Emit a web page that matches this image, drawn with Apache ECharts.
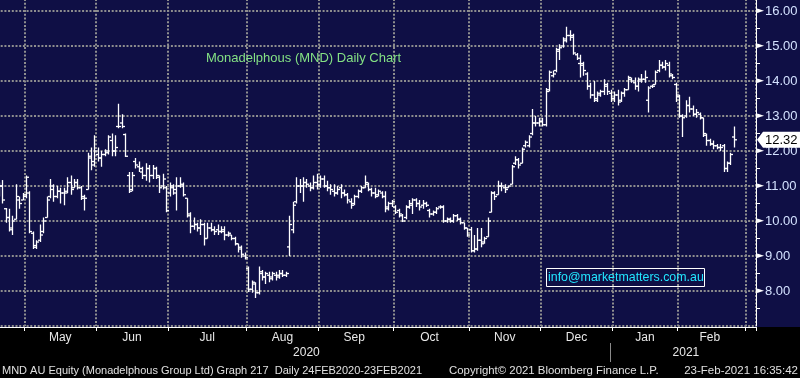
<!DOCTYPE html>
<html><head><meta charset="utf-8">
<script src="https://cdn.jsdelivr.net/npm/echarts@6/dist/echarts.min.js"></script>
<style>html,body{margin:0;padding:0;background:#000;}#c{width:800px;height:378px;}</style>
</head><body><div id="c"></div>
<script>
// ---- trading days shown (categories) ----
const apr2020 = [21,22,23,24,27,28,29,30];
const may2020 = [1,4,5,6,7,8,11,12,13,14,15,18,19,20,21,22,25,26,27,28,29];
const jun2020 = [1,2,3,4,5,9,10,11,12,15,16,17,18,19,22,23,24,25,26,29,30];
const jul2020 = [1,2,3,6,7,8,9,10,13,14,15,16,17,20,21,22,23,24,27,28,29,30,31];
const aug2020 = [3,4,5,6,7,10,11,12,13,14,17,18,19,20,21,24,25,26,27,28,31];
const sep2020 = [1,2,3,4,7,8,9,10,11,14,15,16,17,18,21,22,23,24,25,28,29,30];
const oct2020 = [1,2,5,6,7,8,9,12,13,14,15,16,19,20,21,22,23,26,27,28,29,30];
const nov2020 = [2,3,4,5,6,9,10,11,12,13,16,17,18,19,20,23,24,25,26,27,30];
const dec2020 = [1,2,3,4,7,8,9,10,11,14,15,16,17,18,21,22,23,24,29,30,31];
const jan2021 = [4,5,6,7,8,11,12,13,14,15,18,19,20,21,22,25,27,28,29];
const feb2021 = [1,2,3,4,5,8,9,10,11,12,15,16,17,18,19,22,23,24,25,26];
const mar2021 = [1,2,3];
const monthNames = ['Jan','Feb','Mar','Apr','May','Jun','Jul','Aug','Sep','Oct','Nov','Dec'];

// ---- OHLC values (AUD) ----
const opens = [
 10.9,11.0,10.35,10.1,9.75,10.05,10.6,10.6,
 10.7,10.8,9.65,9.3,9.45,9.7,10.1,10.7,10.9,10.7,10.85,10.8,10.8,11.1,10.95,11.1,10.95,10.65,10.9,11.8,11.6,
 11.9,11.8,11.9,12.0,12.3,12.0,12.7,12.8,12.47,11.3,10.9,11.7,11.55,11.4,11.3,11.5,11.3,11.5,11.3,11.0,10.95,
 10.8,10.95,10.8,11.0,11.0,10.65,10.2,9.85,9.9,9.8,9.9,9.5,9.8,9.75,9.75,9.7,9.7,9.6,9.6,9.5,9.35,9.2,9.0,
 8.65,8.05,8.2,7.95,8.5,8.4,8.45,8.4,8.45,8.45,8.5,8.45,9.26,9.75,10.55,11.0,11.0,11.1,11.0,10.95,11.1,
 11.05,11.2,11.0,10.95,10.85,10.8,10.95,10.8,10.75,10.55,10.5,10.7,10.85,10.95,11.05,10.9,10.8,10.75,10.8,10.7,10.4,10.5,
 10.4,10.3,10.15,10.1,10.4,10.45,10.6,10.5,10.45,10.5,10.3,10.2,10.25,10.4,10.4,10.0,10.05,10.0,10.15,10.05,9.95,9.8,
 9.75,9.15,9.2,9.45,9.4,9.55,10.25,10.8,10.75,11.0,10.95,10.95,11.05,11.65,11.75,11.65,12.15,12.15,12.5,12.8,12.8,
 12.85,12.75,13.75,14.15,14.3,14.85,15.0,15.2,15.3,15.3,14.75,14.5,14.45,14.2,13.85,13.6,13.5,13.6,13.7,13.85,13.65,
 13.5,13.6,13.45,13.65,13.75,14.05,13.95,13.85,14.0,14.05,13.45,13.85,13.9,14.3,14.45,14.4,14.45,14.15,13.9,
 13.6,13.0,13.0,13.3,13.2,13.05,13.05,12.95,12.45,12.3,12.2,12.15,12.1,12.15,11.5,11.65,12.4
];
const highs = [
 11.1,11.17,10.37,10.35,10.15,11.05,10.7,10.8,
 11.3,10.85,9.7,9.45,9.9,10.1,10.7,11.2,11.05,11.0,10.95,10.95,11.25,11.3,11.2,11.2,11.0,10.75,11.95,12.1,12.45,
 12.1,12.0,12.05,12.45,12.5,12.45,13.35,13.05,12.5,11.4,11.4,11.8,11.7,11.55,11.65,11.6,11.6,11.55,11.3,11.35,11.0,
 11.1,11.05,11.25,11.25,11.1,10.65,10.25,10.1,9.95,10.05,9.95,9.95,9.95,9.85,9.9,9.85,9.85,9.7,9.6,9.55,9.35,9.3,9.1,
 8.7,8.3,8.25,8.7,8.6,8.55,8.55,8.55,8.55,8.6,8.6,8.55,10.15,10.55,11.25,11.2,11.25,11.2,11.1,11.3,11.35,
 11.3,11.3,11.15,11.05,11.05,11.0,11.05,10.9,10.8,10.65,10.75,10.9,11.0,11.3,11.1,10.95,10.95,10.9,10.85,10.85,10.55,10.6,
 10.45,10.35,10.2,10.45,10.6,10.65,10.65,10.6,10.6,10.55,10.35,10.3,10.4,10.45,10.45,10.1,10.1,10.2,10.2,10.1,9.95,9.8,
 9.83,9.6,9.8,9.8,9.55,10.1,10.85,10.85,11.15,11.1,11.05,11.0,11.6,11.85,11.8,12.1,12.3,12.45,13.2,13.0,12.95,
 12.95,13.8,14.3,14.3,14.95,15.05,15.25,15.55,15.45,15.35,14.8,14.75,14.55,14.25,13.95,14.0,13.7,13.75,14.05,13.95,13.75,
 13.7,13.75,13.7,13.8,14.15,14.1,14.1,14.1,14.2,14.3,13.85,13.9,14.3,14.6,14.55,14.6,14.55,14.2,13.95,
 13.6,13.05,13.45,13.55,13.3,13.2,13.1,12.95,12.5,12.35,12.3,12.2,12.2,12.2,11.7,11.95,12.7
];
const lows = [
 10.7,10.5,9.95,9.7,9.6,10.05,10.35,10.6,
 10.65,9.65,9.2,9.2,9.4,9.65,10.1,10.65,10.55,10.65,10.5,10.45,10.8,10.75,10.95,10.9,10.6,10.3,10.9,11.45,11.55,
 11.7,11.55,11.85,11.9,11.85,11.85,12.65,12.65,11.83,10.8,10.85,11.5,11.4,11.2,11.15,11.1,11.2,11.2,10.8,10.9,10.25,
 10.7,10.75,10.3,10.95,10.7,10.1,9.65,9.75,9.7,9.6,9.3,9.5,9.7,9.6,9.6,9.65,9.45,9.55,9.45,9.3,9.1,8.95,8.9,
 7.97,7.95,7.8,7.9,8.3,8.2,8.25,8.3,8.3,8.35,8.4,8.4,9.0,9.65,10.5,10.8,10.55,10.95,10.85,10.9,10.9,
 10.95,10.95,10.85,10.75,10.7,10.75,10.65,10.7,10.5,10.35,10.45,10.65,10.8,10.95,10.85,10.7,10.65,10.7,10.65,10.25,10.3,10.4,
 10.2,10.1,9.97,10.05,10.35,10.2,10.4,10.3,10.35,10.4,10.1,10.15,10.2,10.35,9.95,9.95,9.95,9.95,10.0,9.9,9.75,9.55,
 9.1,9.1,9.15,9.25,9.35,9.55,10.25,10.6,10.75,10.85,10.8,10.95,11.05,11.6,11.5,11.65,12.1,12.1,12.45,12.7,12.7,
 12.7,12.7,13.7,14.1,14.25,14.6,14.95,15.1,15.15,14.75,14.6,14.1,14.15,13.75,13.5,13.4,13.4,13.55,13.6,13.6,13.4,
 13.4,13.3,13.4,13.55,13.75,13.95,13.75,13.7,13.95,13.95,13.1,13.8,13.9,14.25,14.35,14.3,14.1,14.05,13.4,
 12.95,12.4,12.95,13.1,13.0,12.95,12.9,12.4,12.15,12.15,12.05,12.05,12.0,11.4,11.4,11.6,12.1
];
const closes = [
 11.0,10.6,10.1,9.8,10.0,10.7,10.5,10.75,
 11.25,9.7,9.25,9.4,9.6,10.0,10.6,11.0,10.7,10.85,10.8,10.85,11.1,10.9,11.1,10.95,10.7,10.65,11.85,11.7,12.0,
 11.8,11.9,11.95,12.4,12.0,12.1,12.7,12.7,11.85,10.85,11.3,11.6,11.5,11.3,11.5,11.3,11.5,11.25,10.95,11.2,10.3,
 11.0,10.9,11.0,11.05,10.75,10.15,9.85,9.9,9.8,9.9,9.5,9.8,9.75,9.7,9.7,9.75,9.6,9.65,9.5,9.35,9.25,9.05,8.95,
 8.05,8.25,7.95,8.55,8.4,8.5,8.35,8.5,8.4,8.5,8.45,8.5,9.9,10.45,11.0,11.0,11.1,11.05,10.95,11.1,11.0,
 11.2,11.0,10.95,10.9,10.8,10.9,10.8,10.75,10.6,10.45,10.7,10.85,10.95,11.1,10.9,10.8,10.7,10.85,10.7,10.35,10.5,10.55,
 10.25,10.2,10.0,10.4,10.5,10.6,10.5,10.4,10.5,10.45,10.2,10.25,10.35,10.4,10.0,10.05,10.0,10.15,10.05,9.95,9.8,9.6,
 9.15,9.2,9.45,9.35,9.5,10.0,10.8,10.7,11.0,11.0,10.9,11.0,11.55,11.75,11.6,12.05,12.25,12.4,12.8,12.8,12.85,
 12.75,13.7,14.25,14.2,14.9,14.95,15.15,15.3,15.25,14.8,14.65,14.5,14.3,13.85,13.6,13.45,13.65,13.7,13.9,13.7,13.5,
 13.6,13.4,13.65,13.75,14.1,14.0,13.85,14.05,14.05,14.1,13.8,13.85,14.25,14.45,14.4,14.5,14.2,14.1,13.55,
 13.0,12.95,13.3,13.2,13.05,13.1,12.95,12.5,12.3,12.2,12.15,12.1,12.1,11.5,11.65,11.9,12.32
];
const lastPrice = 12.32;
const yTicks = { min: 7, step: 1 };

// ---- build categories ----
const months = [
 [2020,4,apr2020],[2020,5,may2020],[2020,6,jun2020],[2020,7,jul2020],[2020,8,aug2020],[2020,9,sep2020],
 [2020,10,oct2020],[2020,11,nov2020],[2020,12,dec2020],[2021,1,jan2021],[2021,2,feb2021],[2021,3,mar2021]
];
const categories = [];
const monthStart = [];
const monthMid = {};
const yearRange = {};
months.forEach(function (m, k) {
  const start = categories.length;
  m[2].forEach(function (d) {
    categories.push(m[0] + '-' + String(m[1]).padStart(2, '0') + '-' + String(d).padStart(2, '0'));
  });
  const end = categories.length - 1;
  if (k > 0) monthStart.push(start);
  if (k > 0 && k < months.length - 1) monthMid[start + Math.floor((end - start) / 2)] = monthNames[m[1] - 1];
  if (!yearRange[m[0]]) yearRange[m[0]] = [start, end]; else yearRange[m[0]][1] = end;
});
const yearEndSet = {};
const yearMid = {};
Object.keys(yearRange).forEach(function (y, k, arr) {
  const r = yearRange[y];
  yearMid[Math.round((r[0] + r[1]) / 2)] = y;
  if (k < arr.length - 1) yearEndSet[r[1]] = true;
});
const startSet = {};
monthStart.forEach(function (i) { startSet[i] = true; });

const ohlc = opens.map(function (o, i) { return [i, o, closes[i], lows[i], highs[i]]; });

const NAVY = '#0f0f45';
const GRID = '#8e8e8e';
const FONT = '"Liberation Sans", Arial, sans-serif';

const chart = echarts.init(document.getElementById('c'), null, { renderer: 'canvas' });
chart.setOption({
  animation: false,
  backgroundColor: NAVY,
  grid: { left: -3, top: -1, width: 759, height: 327, containLabel: false, outerBoundsMode: 'none' },
  xAxis: [
    {
      type: 'category', data: categories, boundaryGap: true, position: 'bottom', offset: 1,
      axisLine: { show: true, lineStyle: { color: '#ffffff', width: 1 } },
      axisTick: { show: true, interval: function (i) { return !!startSet[i]; }, length: 4, lineStyle: { color: '#ffffff' } },
      splitLine: { show: true, interval: function (i) { return !!startSet[i]; }, lineStyle: { color: GRID, width: 2, type: [2, 1.7] } },
      axisLabel: {
        show: true, interval: function (i) { return monthMid[i] !== undefined; },
        formatter: function (v, i) { return monthMid[i] || ''; },
        color: '#e8e8e8', fontSize: 12, fontFamily: FONT, margin: 5
      }
    },
    {
      type: 'category', data: categories, boundaryGap: true, position: 'bottom', offset: 17,
      axisLine: { show: false },
      axisTick: { show: true, alignWithLabel: true, interval: function (i) { return !!yearEndSet[i]; }, length: 19, lineStyle: { color: '#8a8a8a' } },
      splitLine: { show: false },
      axisLabel: {
        show: true, interval: function (i) { return yearMid[i] !== undefined; },
        formatter: function (v, i) { return yearMid[i] || ''; },
        color: '#e8e8e8', fontSize: 12, fontFamily: FONT, margin: 4
      }
    }
  ],
  yAxis: {
    type: 'value', position: 'right', min: yTicks.min, max: yTicks.min + 327 / 35, interval: yTicks.step,
    axisLine: { show: true, lineStyle: { color: '#ffffff', width: 1 } },
    axisTick: { show: false },
    minorTick: { show: true, splitNumber: 2, length: 4, lineStyle: { color: '#ffffff', width: 1 } },
    splitLine: { show: true, lineStyle: { color: GRID, width: 2, type: [2, 1.7] } },
    axisLabel: {
      show: true, margin: 1, showMinLabel: false, showMaxLabel: false,
      formatter: function (v) { return '{t|\u25BA}{v|' + v.toFixed(2) + '}'; },
      rich: {
        t: { color: '#ffffff', fontSize: 9, fontFamily: '"DejaVu Sans"', padding: [0, 1, 0, 0] },
        v: { color: '#d4e2ff', fontSize: 13, fontFamily: FONT }
      }
    }
  },
  graphic: { elements: [
    { type: 'rect', z: -1, shape: { x: 0, y: 327, width: 800, height: 51 }, style: { fill: '#000000' } },
    { type: 'text', z: 50, x: 206, y: 58, style: { text: 'Monadelphous (MND) Daily Chart', fill: '#84e184', font: '13px ' + FONT, verticalAlign: 'middle' } },
    { type: 'rect', z: 50, shape: { x: 546.5, y: 268.5, width: 158, height: 18 }, style: { fill: 'none', stroke: '#ffffff', lineWidth: 1 } },
    { type: 'text', z: 50, x: 548, y: 278, style: { text: 'info@marketmatters.com.au', fill: '#22e6ff', font: '12.4px ' + FONT, verticalAlign: 'middle' } },
    { type: 'text', z: 50, x: 2, y: 371, style: { text: 'MND AU Equity (Monadelphous Group Ltd) Graph 217  Daily 24FEB2020-23FEB2021', fill: '#e0e0e0', font: '11px ' + FONT, verticalAlign: 'middle' } },
    { type: 'text', z: 50, x: 449, y: 371, style: { text: 'Copyright\u00A9 2021 Bloomberg Finance L.P.', fill: '#e0e0e0', font: '11.4px ' + FONT, verticalAlign: 'middle' } },
    { type: 'text', z: 50, x: 798, y: 371, style: { text: '23-Feb-2021 16:35:42', fill: '#e0e0e0', font: '11.5px ' + FONT, verticalAlign: 'middle', align: 'right' } }
  ] },
  series: [
    {
      type: 'custom', name: 'MND', xAxisIndex: 0, yAxisIndex: 0, data: ohlc, clip: false,
      encode: { x: 0, y: [1, 2, 3, 4] },
      renderItem: function (params, api) {
        const i = api.value(0);
        const po = api.coord([i, api.value(1)]);
        const x = Math.round(po[0]) + 0.5;
        const yo = po[1];
        const yc = api.coord([i, api.value(2)])[1];
        const yl = api.coord([i, api.value(3)])[1];
        const yh = api.coord([i, api.value(4)])[1];
        const st = { stroke: '#ffffff', lineWidth: 1.3 };
        return { type: 'group', children: [
          { type: 'line', shape: { x1: x, y1: yh, x2: x, y2: yl }, style: st },
          { type: 'line', shape: { x1: x - 2.5, y1: yo, x2: x, y2: yo }, style: st },
          { type: 'line', shape: { x1: x, y1: yc, x2: x + 2.5, y2: yc }, style: st }
        ] };
      }
    },
    {
      type: 'custom', name: 'last', xAxisIndex: 0, yAxisIndex: 0, clip: false, z: 20,
      data: [[opens.length - 1, lastPrice]], encode: { x: 0, y: 1 },
      renderItem: function (params, api) {
        const cs = params.coordSys;
        const y = api.coord([api.value(0), api.value(1)])[1];
        const x0 = cs.x + cs.width + 1;
        const w = api.getWidth();
        return { type: 'group', children: [
          { type: 'polygon', shape: { points: [[x0, y], [x0 + 6, y - 8], [w, y - 8], [w, y + 8], [x0 + 6, y + 8]] }, style: { fill: '#ffffff' } },
          { type: 'text', style: { text: api.value(1).toFixed(2), x: x0 + 8, y: y + 0.5, fill: '#000000', font: '13px ' + FONT, verticalAlign: 'middle' } }
        ] };
      }
    }
  ]
});
</script></body></html>
